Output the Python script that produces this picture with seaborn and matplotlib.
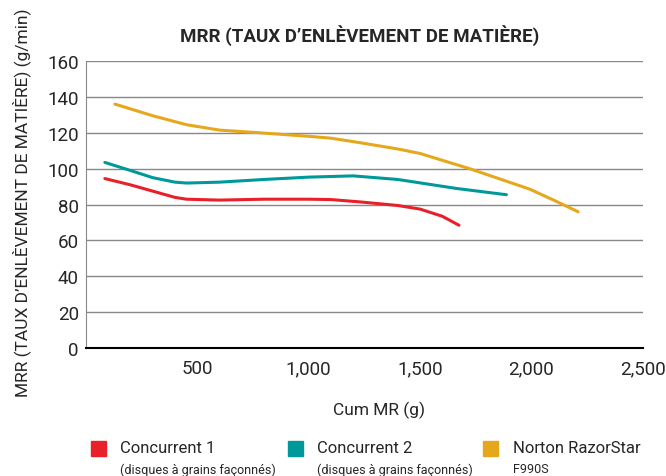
import numpy as np
import pandas as pd
import matplotlib
matplotlib.use('Agg')
import matplotlib.pyplot as plt
import matplotlib.patches as mpatches
import seaborn as sns

# Données
c1_x = [85, 200, 300, 400, 452, 600, 800, 1000, 1100, 1230, 1400, 1500, 1600, 1675]
c1_y = [94.5, 91, 87.5, 84, 83, 82.5, 83, 83, 82.8, 81.5, 79.5, 77.5, 73.5, 68.5]
c2_x = [85, 200, 300, 400, 452, 600, 800, 1000, 1200, 1400, 1663, 1888]
c2_y = [103.5, 99, 95, 92.5, 92, 92.5, 94, 95.3, 96, 94, 89, 85.5]
nr_x = [130, 300, 452, 600, 781, 1005, 1100, 1230, 1400, 1500, 1723, 1993, 2100, 2210]
nr_y = [136, 129.5, 124.5, 121.5, 120, 118, 117, 114.5, 111, 108.5, 100, 88.6, 82.5, 76]

series = ['Concurrent 1', 'Concurrent 2', 'Norton RazorStar']
subtitles = ['(disques à grains façonnés)', '(disques à grains façonnés)', 'F990S']
colors = ['#e8202a', '#00999a', '#e5a81c']
x_ticks = [500, 1000, 1500, 2000, 2500]
x_ticklabels = ['500', '1,000', '1,500', '2,000', '2,500']
y_ticks = [0, 20, 40, 60, 80, 100, 120, 140, 160]

df = pd.concat([
    pd.DataFrame({'x': c1_x, 'y': c1_y, 's': series[0]}),
    pd.DataFrame({'x': c2_x, 'y': c2_y, 's': series[1]}),
    pd.DataFrame({'x': nr_x, 'y': nr_y, 's': series[2]}),
])

sns.set_style('white')
plt.rcParams['font.family'] = ['Liberation Sans Narrow', 'Roboto', 'DejaVu Sans']
plt.rcParams['font.stretch'] = 'condensed'

W, H = 666, 477
fig = plt.figure(figsize=(W / 100, H / 100), dpi=100)
ax = fig.add_axes([0.129, 0.268, 0.836, 0.602])

sns.lineplot(data=df, x='x', y='y', hue='s', palette=dict(zip(series, colors)),
             linewidth=2.2, sort=False, legend=False, ax=ax)

ax.set_xlim(0, 2500)
ax.set_ylim(0, 160)
ax.set_xticks(x_ticks)
ax.set_xticklabels(x_ticklabels, fontsize=13.5)
ax.set_yticks(y_ticks)
ax.set_yticklabels([str(v) for v in y_ticks], fontsize=13.5)
ax.yaxis.grid(True, color='#888888', linewidth=1)
ax.set_axisbelow(True)
for s in ['top', 'right']:
    ax.spines[s].set_visible(False)
ax.spines['left'].set_color('#888888')
ax.spines['bottom'].set_color('black')
ax.spines['bottom'].set_linewidth(1.5)
ax.tick_params(axis='x', direction='inout', length=8, width=2, color='black', pad=4)
ax.tick_params(axis='y', length=0, pad=5)

ax.set_xlabel('')
ax.set_ylabel('')
fig.text(379 / W, 1 - 410 / H, 'Cum MR (g)', ha='center', va='center', fontsize=12.5)
fig.text(22 / W, 1 - 203 / H, 'MRR (TAUX D’ENLÈVEMENT DE MATIÈRE) (g/min)', ha='center',
         va='center', rotation=90, fontsize=12.5)
fig.text(360 / W, 1 - 36 / H, 'MRR (TAUX D’ENLÈVEMENT DE MATIÈRE)', ha='center', va='center',
         fontsize=13.5, fontweight='bold')

# Légende manuelle (positions en pixels)
sq_x = [91, 288, 483]
txt_x = [120, 317, 513]
for i in range(3):
    fig.add_artist(mpatches.Rectangle((sq_x[i] / W, 1 - 457 / H), 15 / W, 15 / H,
                                      color=colors[i], transform=fig.transFigure))
    fig.text(txt_x[i] / W, 1 - 449 / H, series[i], fontsize=12, va='center')
    fig.text(txt_x[i] / W, 1 - 470 / H, subtitles[i], fontsize=9, va='center')

fig.savefig('out.png', dpi=100)
